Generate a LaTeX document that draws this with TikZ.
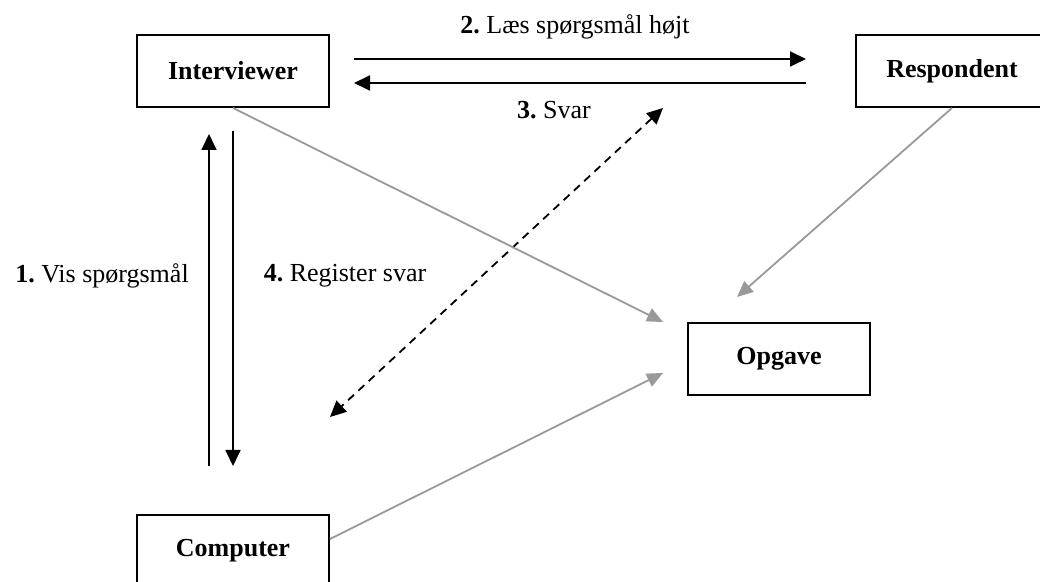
\documentclass[tikz,border=0pt]{standalone}
\usepackage{fontspec}
\setmainfont{Liberation Serif}
\usetikzlibrary{arrows.meta,calc}
\definecolor{linegray}{HTML}{999999}
\frenchspacing
\begin{document}
\begin{tikzpicture}[x=0.5pt,y=-0.5pt,
  box/.style={draw=black,line width=1pt,minimum width=96pt,minimum height=36pt,inner sep=0pt,font=\fontsize{13pt}{15pt}\selectfont\bfseries},
  lbl/.style={inner sep=0pt,font=\fontsize{13pt}{15pt}\selectfont},
  tip/.style={-{Triangle[length=8pt,width=7.5pt]}},
  blk/.style={draw=black,line width=0.9pt,tip},
  gry/.style={draw=linegray,line width=0.9pt,-{Triangle[length=8pt,width=7pt]}},
  dsh/.style={draw=black,line width=0.9pt,dash pattern=on 4pt off 3pt,{Triangle[length=8pt,width=7.5pt]}-{Triangle[length=8pt,width=7.5pt]}}]
\useasboundingbox (0,0) rectangle (1040,582);
\node[box] (int) at (233,71) {Interviewer};
\node[box] (res) at (952,71) {Respondent};
\node[box,minimum width=91pt] (opg) at (779,359) {Opgave};
\node[box] (com) at (233,551) {Computer};
% 2 and 3
\draw[blk,shorten <=12pt,shorten >=24.5pt] ($(int.east)+(0,-12)$) -- ($(res.west)+(0,-12)$);
\draw[blk,shorten <=24.5pt,shorten >=12pt] ($(res.west)+(0,12)$) -- ($(int.east)+(0,12)$);
% 1 and 4
\draw[blk,shorten <=24pt,shorten >=13pt] ($(com.north)+(-24,0)$) -- ($(int.south)+(-24,0)$);
\draw[blk,shorten <=11.5pt,shorten >=24pt] (int.south) -- (com.north);
% dashed
\coordinate (d1) at (663,108);
\coordinate (d2) at (330,417);
\draw[dsh] (d1) -- (d2);
% gray
\coordinate (g1) at (663,322);
\coordinate (g2) at (663,373);
\coordinate (g3) at (737,297);
\draw[gry] (int.south) -- (g1);
\draw[gry] ($(com.east)+(0,-12)$) -- (g2);
\draw[gry] (res.south) -- (g3);
% labels
\node[lbl] (l2) at (575,27) {\textbf{2.} Læs spørgsmål højt};
\node[lbl] (l3) at (554,110) {\textbf{3.} Svar};
\node[lbl] (l1) at (102,276) {\textbf{1.} Vis spørgsmål};
\node[lbl] (l4) at (345,276) {\textbf{4.} Register svar};
\end{tikzpicture}
\end{document}
